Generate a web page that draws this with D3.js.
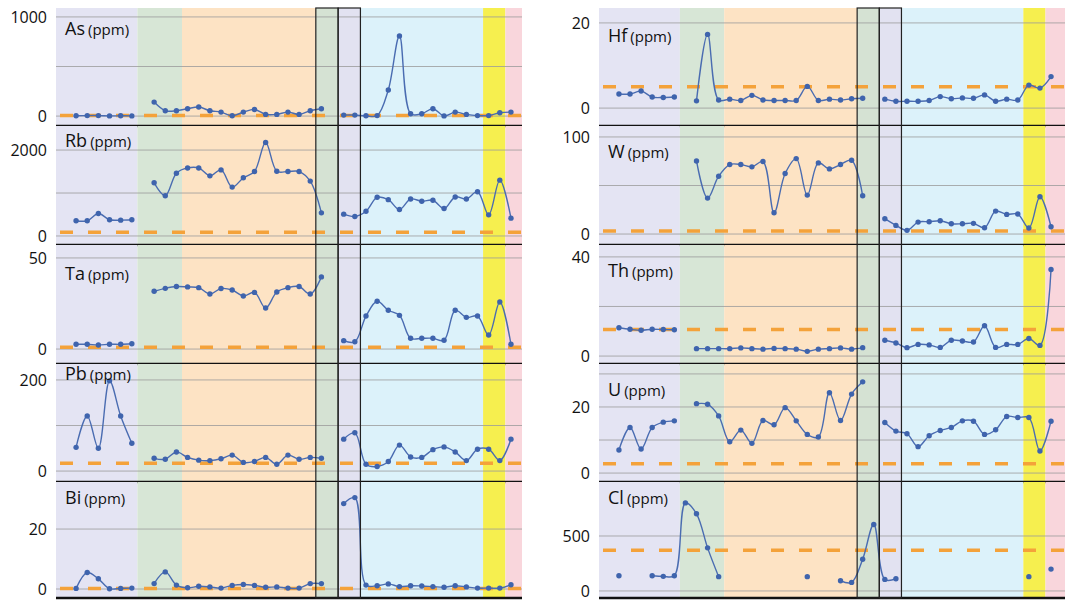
<!DOCTYPE html>
<html>
<head>
<meta charset="utf-8">
<script src="https://cdn.jsdelivr.net/npm/d3@7"></script>
<style>
  body { margin: 0; background: #fff; }
  svg { display: block; }
  text { font-family: "Open Sans", "Noto Sans", sans-serif; fill: #111; }
</style>
</head>
<body>
<svg id="chart" width="1065" height="601"></svg>
<script>
// Element concentrations (ppm) along the 40 sample positions; null = no sample
const asPpm = [3,5,5,2,3,2,null,141,54,54,74,91,54,40,3,40,67,17,17,40,17,54,74,null,10,10,3,5,263,808,23,23,74,2,40,17,5,5,34,40];
const rbPpm = [354,354,523,377,369,377,null,1238,938,1461,1584,1584,1400,1538,1138,1354,1500,2176,1507,1500,1500,1277,538,null,508,454,577,900,846,615,861,808,831,638,908,861,1030,492,1300,415];
const taPpm = [2.6,2.6,2.2,2.6,2.6,2.9,null,31.7,33.3,34.3,34.1,33.7,30.2,33.2,32.4,29.1,31.1,22.5,31.3,33.7,34.3,30.2,39.6,null,4.6,4.0,18.1,26.2,21.3,18.5,5.9,5.9,5.9,4.8,21.3,17.4,18.1,7.7,25.8,2.6];
const pbPpm = [52,121,50,198,121,61,null,28,26,42,30,24,23,27,35,19,21,30,15,35,26,30,28,null,70,84,15,10,21,57,31,30,47,53,42,23,48,48,23,70];
const biPpm = [0.2,5.5,3.4,0.1,0.2,0.3,null,1.8,5.7,1.3,0.4,0.9,0.7,0.3,1.2,1.5,1.2,0.6,0.7,0.3,0.3,1.8,1.8,null,28.5,30.5,1.3,1.1,1.7,0.8,1.1,1.0,0.8,0.6,1.1,0.7,0.3,0.3,0.3,1.4];
const hfPpm = [3.3,3.3,4.0,2.6,2.5,2.6,null,1.7,17.3,1.9,2.1,1.8,3.0,1.9,1.8,1.8,1.8,5.1,1.8,2.1,1.9,2.2,2.3,null,2.1,1.6,1.6,1.6,1.8,2.7,2.2,2.4,2.3,3.1,1.6,2.1,1.9,5.4,4.7,7.4];
const wPpm  = [null,null,null,null,null,null,null,75.3,37.0,59.6,71.6,71.6,69.2,74.7,21.9,62.3,77.7,40.1,73.3,67.1,71.6,76.0,39.4,null,15.8,8.9,3.8,12.3,12.7,13.7,10.6,10.6,11.0,6.5,23.6,20.2,20.6,6.2,38.4,7.5];
const thPpm = [11.4,10.8,10.4,10.8,10.7,10.6,null,3.0,3.0,3.0,3.0,3.3,3.0,2.8,3.1,3.0,2.8,1.9,2.8,3.0,3.3,2.8,3.4,null,6.4,5.3,3.4,4.7,4.5,3.5,6.4,6.1,5.7,12.2,3.5,4.7,4.7,7.1,4.3,34.9];
const uPpm  = [7.0,13.8,7.3,13.8,15.4,15.8,null,21.0,20.8,17.3,9.5,13.0,9.0,15.9,14.6,19.8,15.8,11.7,10.9,24.3,15.9,23.9,27.6,null,15.3,12.7,11.9,8.0,11.3,12.9,13.8,15.8,15.7,11.7,13.1,17.1,16.8,16.8,6.7,15.7];
const clPpm = [139,null,null,139,133,139,801,702,392,130,null,null,null,null,null,null,null,130,null,null,93,78,289,605,105,111,null,null,null,null,null,null,null,null,null,null,null,130,null,199];

const elements   = ["As","Rb","Ta","Pb","Bi","Hf","W","Th","U","Cl"];
const seriesList = [asPpm, rbPpm, taPpm, pbPpm, biPpm, hfPpm, wPpm, thPpm, uPpm, clPpm];
// crustal reference level drawn as the dashed line
const refLevels  = [5, 85, 1, 17, 0.2, 5, 3, 10.7, 2.8, 370];
const tickLabels = [[0,1000],[0,2000],[0,50],[0,200],[0,20],[0,20],[0,100],[0,40],[0,20],[0,500]];
const gridValues = [[0,500,1000],[0,1000,2000],[0,50],[0,100,200],[0,20],[0,20],[0,50,100],[0,20,40],[0,10,20,30],[0,500]];
const yDomains   = [[-100,1090],[-210,2560],[-8.2,57.1],[-24,235],[-3,35.7],[-4.2,23.5],[-11.3,111.3],[-3.2,44.8],[-2.7,33],[-64,991]];

// lithological zones along the sample axis
const zoneEdges  = [-1.8, 5.5, 9.5, 21.5, 23.5, 25.5, 36.5, 38.5, 39.9];
const zoneFills  = ["#e4e4f3","#d7e6d6","#fde3c4","#d5e2d3","#e2e2f1","#dcf2fa","#f6ef4f","#f9d6dc"];
const framedZones = [[21.5, 23.5], [23.5, 25.5]];

// layout: x1 = end of the sample axis, edge = where backgrounds and rules stop
const columns = [{x0: 56, x1: 521, edge: 522}, {x0: 599, x1: 1061, edge: 1066}];
const rowTops = [8, 126, 245, 364, 482];
const rowBottoms = [126, 245, 364, 482, 598];
const labelDy = [27, 21, 35, 16, 22, 34, 32, 32, 32, 22];

const svg = d3.select("#chart");

columns.forEach((col, c) => {
  const x = d3.scaleLinear().domain([zoneEdges[0], zoneEdges[zoneEdges.length - 1]]).range([col.x0, col.x1]);
  const edges = zoneEdges.slice();
  edges[edges.length - 1] = x.invert(col.edge);
  const g = svg.append("g");

  for (let r = 0; r < 5; r++) {
    const k = c * 5 + r;
    const top = rowTops[r], bottom = rowBottoms[r];
    const y = d3.scaleLinear().domain(yDomains[k]).range([bottom, top]);
    const p = g.append("g");

    // zone backgrounds
    p.selectAll("rect.zone").data(zoneFills).join("rect")
      .attr("class", "zone")
      .attr("x", (d, i) => x(edges[i]))
      .attr("width", (d, i) => x(edges[i + 1]) - x(edges[i]))
      .attr("y", top).attr("height", bottom - top)
      .attr("fill", d => d);

    // gridlines
    p.selectAll("line.grid").data(gridValues[k]).join("line")
      .attr("class", "grid")
      .attr("x1", col.x0).attr("x2", col.edge)
      .attr("y1", d => y(d)).attr("y2", d => y(d))
      .attr("stroke", "#9a9a9a").attr("stroke-width", 0.8);

    // tick labels
    const axis = d3.axisLeft(y).tickValues(tickLabels[k]).tickSize(0).tickPadding(9).tickFormat(d3.format("d"));
    const ax = p.append("g").attr("transform", `translate(${col.x0},0)`).call(axis);
    ax.select(".domain").remove();
    ax.selectAll("text").attr("font-size", 16).attr("fill", "#111")
      .attr("font-family", "\"Open Sans\", sans-serif");

    // reference level
    p.append("line")
      .attr("x1", col.x0).attr("x2", col.edge)
      .attr("y1", y(refLevels[k])).attr("y2", y(refLevels[k]))
      .attr("stroke", "#f4a23a").attr("stroke-width", 3.5)
      .attr("stroke-dasharray", "13 15").attr("stroke-dashoffset", -4);

    // data series
    const pts = seriesList[k].map((v, i) => ({i, v}));
    const line = d3.line()
      .defined(d => d.v !== null)
      .x(d => x(d.i)).y(d => y(d.v))
      .curve(d3.curveCatmullRom.alpha(0.5));
    p.append("path").attr("d", line(pts))
      .attr("fill", "none").attr("stroke", "#4a6cb1").attr("stroke-width", 1.4);
    p.selectAll("circle").data(pts.filter(d => d.v !== null)).join("circle")
      .attr("cx", d => x(d.i)).attr("cy", d => y(d.v)).attr("r", 2.7)
      .attr("fill", "#3f64ad");

    // element label
    const lab = p.append("text").attr("x", col.x0 + 9).attr("y", top + labelDy[k]);
    lab.append("tspan").attr("font-size", 18).text(elements[k]);
    lab.append("tspan").attr("font-size", 15).attr("dx", 3).text("(ppm)");

    // panel separator
    p.append("line")
      .attr("x1", col.x0).attr("x2", col.edge)
      .attr("y1", bottom).attr("y2", bottom)
      .attr("stroke", "#111").attr("stroke-width", 2.5);
  }

  // framed sample zones spanning the full column
  g.selectAll("rect.frame").data(framedZones).join("rect")
    .attr("class", "frame")
    .attr("x", d => x(d[0])).attr("width", d => x(d[1]) - x(d[0]))
    .attr("y", rowTops[0]).attr("height", rowBottoms[4] - rowTops[0])
    .attr("fill", "none").attr("stroke", "#222").attr("stroke-width", 1.2);
});
</script>
</body>
</html>
